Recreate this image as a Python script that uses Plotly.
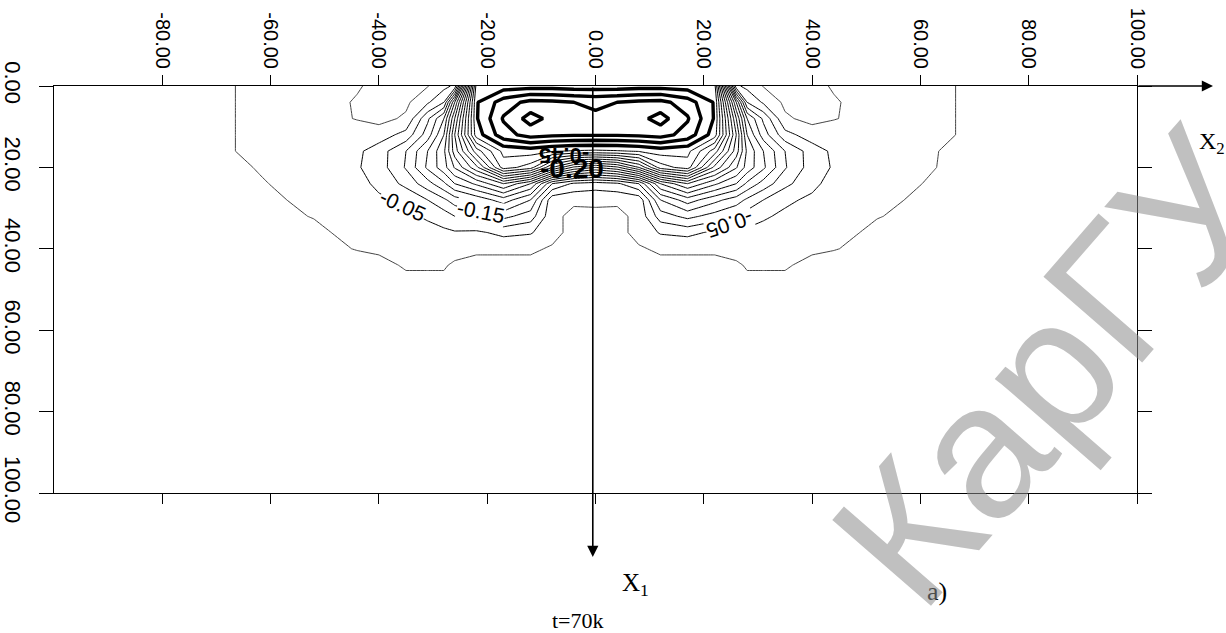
import numpy as np
import plotly.graph_objects as go

# grid coordinates (X2 across, X1 depth)
x2_nodes = [-100, -68, -62, -52, -44, -40, -35, -31, -28, -26, -22, -17, -12, -8, -4, 0,
            4, 8, 12, 17, 22, 26, 28, 31, 35, 40, 44, 52, 62, 68, 100]
x1_nodes = [0, 4, 8, 12, 16, 20, 24, 28, 32, 36, 40, 44, 48, 100]

# field values (hundredths), one row per x1 node
z_hundredths = [
    [1, 0.5, -1.5, -2.5, -0.5, 1.5, 1.5, 0.25, -3.5, -6, -82, -82.5, -83, -83, -82.5, -82.5,
     -82.5, -83, -83, -82.5, -82, -6, -3.5, 0.25, 1.5, 1.5, -0.5, -2.5, -1.5, 0.5, 1],
    [1, 0.5, -1.5, -2.5, 0.5, 1.75, 1, -4.25, -10, -35, -84.5, -92.5, -96.5, -96, -95, -94,
     -95, -96, -96.5, -92.5, -84.5, -35, -10, -4.25, 1, 1.75, 0.5, -2.5, -1.5, 0.5, 1],
    [1, 0.5, -1.5, -2, 0.25, 1.5, -0.75, -14, -25, -45, -84.5, -95.5, -102, -98.5, -96.5, -96,
     -96.5, -98.5, -102, -95.5, -84.5, -45, -25, -14, -0.75, 1.5, 0.25, -2, -1.5, 0.5, 1],
    [1, 0.5, -1.5, -2.5, -2.5, -2.5, -6.75, -17.5, -30, -50, -82.5, -93, -97, -96, -95.5, -95.5,
     -95.5, -96, -97, -93, -82.5, -50, -30, -17.5, -6.75, -2.5, -2.5, -2.5, -1.5, 0.5, 1],
    [1, 0.5, -1.5, -2.25, -4, -7.5, -15, -25, -34, -47.5, -67.5, -81.5, -82.5, -80.5, -79.5, -79,
     -79.5, -80.5, -82.5, -81.5, -67.5, -47.5, -34, -25, -15, -7.5, -4, -2.25, -0.15, 0.5, 1],
    [1, 0.75, -0.2, -1.75, -4.5, -7.5, -15.5, -26, -33, -40.5, -53.5, -77.5, -72.5, -55, -44, -40,
     -44, -55, -72.5, -77.5, -53.5, -40.5, -33, -26, -15.5, -7.5, -4.5, -1.75, -0.15, 0.75, 1],
    [1, 0.75, 0.25, -1.25, -3.5, -6, -11.5, -18, -24, -30, -36, -45, -35, -15, -9, -7.5,
     -9, -15, -35, -45, -36, -30, -24, -18, -11.5, -6, -3.5, -1.25, 0.25, 0.75, 1],
    [1, 0.75, 0.5, -0.5, -2.25, -4.25, -5.75, -10, -14, -17.5, -21.5, -27.5, -20, -1.5, -1, -1.25,
     -1, -1.5, -20, -27.5, -21.5, -17.5, -14, -10, -5.75, -4.25, -2.25, -0.5, 0.5, 0.75, 1],
    [1, 0.75, 0.75, -0.1, -1.5, -3, -4.25, -5.5, -7.5, -10, -13, -16.5, -12.5, -1.5, 1.5, 1.5,
     1.5, -1.5, -12.5, -16.5, -13, -10, -7.5, -5.5, -4.25, -3, -1.5, -0.1, 0.75, 0.75, 1],
    [1, 0.75, 0.75, 0.5, -0.75, -2, -3, -3.75, -4, -4.5, -4, -6.5, -5.5, -1.5, 1.5, 1.5,
     1.5, -1.5, -5.5, -6.5, -4, -4.5, -4, -3.75, -3, -2, -0.75, 0.5, 0.75, 0.75, 1],
    [1, 0.75, 0.75, 1, -0.15, -0.75, -2.5, -2.5, -2.5, -2, -0.75, -0.75, -0.75, 0.5, 1.5, 1.5,
     1.5, 0.5, -0.75, -0.75, -0.75, -2, -2.5, -2.5, -2.5, -0.75, -0.15, 1, 0.75, 0.75, 1],
    [1, 0.75, 0.75, 1, 1.25, 1.25, -0.5, -0.5, -0.5, 0.75, 1.25, 1.25, 1.25, 1.25, 1.25, 1.25,
     1.25, 1.25, 1.25, 1.25, 1.25, 0.75, -0.5, -0.5, -0.5, 1.25, 1.25, 1, 0.75, 0.75, 1],
    [1] * 31,
    [1] * 31,
]

x2_tick_values = [-80, -60, -40, -20, 0, 20, 40, 60, 80, 100]
x2_tick_labels = ["-80.00", "-60.00", "-40.00", "-20.00", "0.00", "20.00", "40.00", "60.00", "80.00", "100.00"]
x1_tick_values = [0, 20, 40, 60, 80, 100]
x1_tick_labels = ["0.00", "20.00", "40.00", "60.00", "80.00", "100.00"]

# contour labels as printed on the figure: text, X2, X1, angle
contour_label_text = ["-0.05", "-0.15", "-0.05"]
contour_label_x2 = [-35.5, -21.1, 24.8]
contour_label_x1 = [29.3, 30.8, 34.0]
contour_label_angle = [25, 11, 162]
# overprinted labels in the dense band under the core
core_label_text = ["-0.45", "-0.20"]
core_label_x2 = [-5.8, -4.3]
core_label_x1 = [17.2, 20.3]
core_label_angle = [180, 0]
core_label_size = [22, 28]

z = np.array(z_hundredths) / 100.0

fig = go.Figure()


def add_levels(start, end, size, width, color):
    fig.add_trace(go.Contour(
        x=x2_nodes, y=x1_nodes, z=z,
        contours=dict(start=start, end=end, size=size, coloring="none", showlabels=False),
        line=dict(color=color, width=width, smoothing=0),
        showscale=False, hoverinfo="skip",
    ))


add_levels(0.0, 0.0, 0.05, 1, "#444444")      # outer boundary
add_levels(-0.80, -0.05, 0.05, 1, "black")    # thin levels
add_levels(-1.00, -0.85, 0.05, 3.4, "black")  # heavy levels

fig.update_layout(
    width=1226, height=633, autosize=False,
    margin=dict(l=54, r=89, t=86, b=140),
    paper_bgcolor="white", plot_bgcolor="white",
    showlegend=False,
    xaxis=dict(side="top", range=[-100, 100], tickvals=x2_tick_values, ticktext=x2_tick_labels,
               tickangle=90, ticks="outside", ticklen=10, tickcolor="black", tickwidth=1,
               showline=True, linecolor="black", linewidth=1, mirror="allticks",
               showgrid=False, zeroline=False, automargin=False, ticklabelstandoff=-1,
               tickfont=dict(family="Liberation Sans", size=20, color="black")),
    yaxis=dict(range=[100, 0], tickvals=x1_tick_values, ticktext=x1_tick_labels,
               tickangle=90, ticks="outside", ticklen=14, tickcolor="black", tickwidth=1,
               showline=True, linecolor="black", linewidth=1, mirror="allticks",
               showgrid=False, zeroline=False, ticklabelstandoff=8, automargin=False,
               tickfont=dict(family="Liberation Sans", size=22, color="black")),
)

lab_font = dict(family="Liberation Sans", size=21, color="black")
for t, xv, yv, a in zip(contour_label_text, contour_label_x2, contour_label_x1, contour_label_angle):
    fig.add_annotation(x=xv, y=yv, xref="x", yref="y", text=t, textangle=a, showarrow=False,
                       font=lab_font, bgcolor="white", borderpad=0)
for t, xv, yv, a, s in zip(core_label_text, core_label_x2, core_label_x1, core_label_angle, core_label_size):
    fig.add_annotation(x=xv, y=yv, xref="x", yref="y", text="<b>" + t + "</b>", textangle=a,
                       showarrow=False, font=dict(family="Liberation Sans", size=s, color="black"))

serif = "Liberation Serif"
fig.add_annotation(xref="x domain", yref="y domain", axref="x domain", ayref="y domain",
                   x=1.0702, y=1, ax=1.0, ay=1, text="", showarrow=True,
                   arrowhead=2, arrowsize=1.4, arrowwidth=1.6, arrowcolor="black", standoff=0)
fig.add_annotation(xref="x", yref="y domain", axref="x", ayref="y domain",
                   x=-0.5, y=-0.157, ax=-0.5, ay=1, text="", showarrow=True,
                   arrowhead=2, arrowsize=1.4, arrowwidth=1.6, arrowcolor="black", standoff=0)
fig.add_annotation(xref="paper", yref="paper", x=1.0554, y=0.86, xanchor="left", yanchor="middle",
                   text="X<sub>2</sub>", showarrow=False, font=dict(family=serif, size=24, color="black"))
fig.add_annotation(xref="paper", yref="paper", x=0.5226, y=-0.226, xanchor="left", yanchor="middle",
                   text="X<sub>1</sub>", showarrow=False, font=dict(family=serif, size=25, color="black"))
fig.add_annotation(xref="paper", yref="paper", x=0.8153, y=-0.2432, xanchor="center", yanchor="middle",
                   text="a)", showarrow=False, font=dict(family=serif, size=26, color="black"))
fig.add_annotation(xref="paper", yref="paper", x=0.4838, y=-0.314, xanchor="center", yanchor="middle",
                   text="t=70k", showarrow=False, font=dict(family=serif, size=22, color="black"))

# watermark of the source document
fig.add_annotation(xref="paper", yref="paper", x=0.9197, y=0.307, xanchor="center", yanchor="middle",
                   text="КарГУ", textangle=-49, showarrow=False,
                   font=dict(family="Liberation Sans", size=190, color="rgba(140,140,140,0.55)"))

fig.write_html("out.html", config={"displayModeBar": False},
               post_script="document.body.style.margin='0px';")
